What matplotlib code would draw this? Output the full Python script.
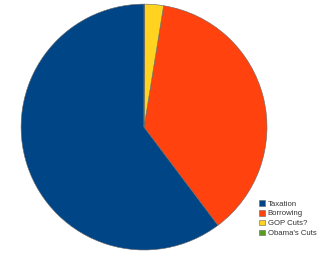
import matplotlib.pyplot as plt

labels = ['Taxation', 'Borrowing', 'GOP Cuts?', "Obama's Cuts"]
values = [60.3, 37.2, 2.5, 0.05]
colors = ['#004586', '#ff420e', '#ffd320', '#579d1c']

plt.rcParams['font.family'] = ['Liberation Sans', 'DejaVu Sans']

fig = plt.figure(figsize=(3.2, 2.58), dpi=100)
ax = fig.add_axes([0.0656, 0.031, 0.769, 0.953])

wedges, _ = ax.pie(values, colors=colors, startangle=90, counterclock=True,
                   wedgeprops=dict(edgecolor='#666666', linewidth=0.4))
ax.set_xlim(-1, 1)
ax.set_ylim(-1, 1)
ax.set_aspect('equal')

fig.legend(wedges, labels, loc='upper left', bbox_to_anchor=(0.81, 0.225),
           frameon=False, fontsize=5.6, handlelength=0.75, handleheight=0.75,
           handletextpad=0.35, labelspacing=0.3, labelcolor='#333333',
           borderpad=0, borderaxespad=0)

fig.savefig('out.png', dpi=100)
